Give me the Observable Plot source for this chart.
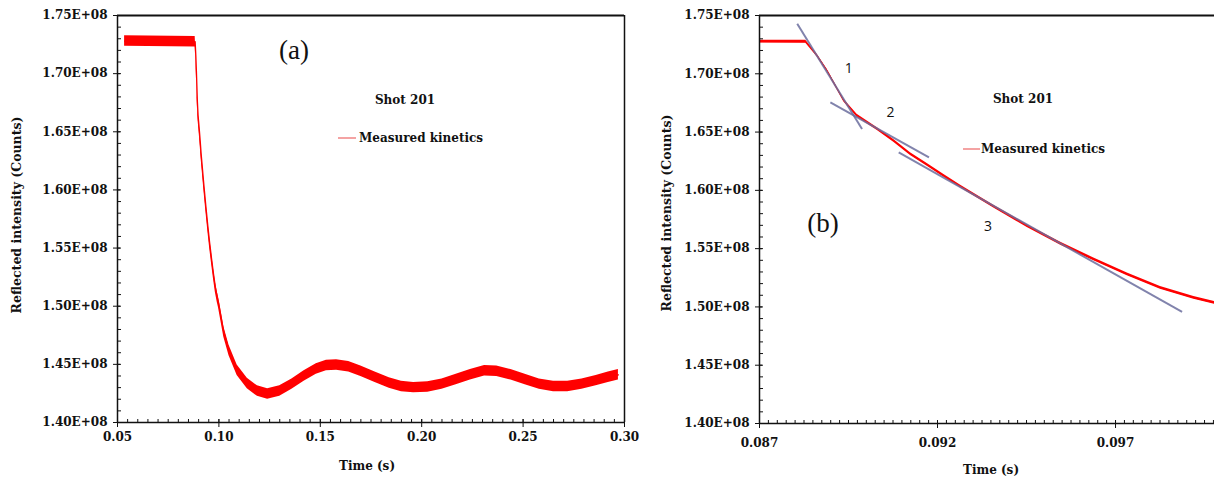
<!DOCTYPE html>
<html><head><meta charset="utf-8">
<script src="https://cdn.jsdelivr.net/npm/d3@7"></script>
<script src="https://cdn.jsdelivr.net/npm/@observablehq/plot@0.6"></script>
<style>
body{margin:0;background:#fff;}
#wrap{position:relative;width:1214px;height:480px;overflow:hidden;font-family:"DejaVu Serif",serif;color:#111;}
.panel{position:absolute;top:0;}
.t{position:absolute;white-space:nowrap;font-weight:bold;font-size:12px;transform:translate(-50%,-50%);line-height:1;}
.ts{position:absolute;white-space:nowrap;font-weight:bold;font-size:12px;transform:translate(0,-50%);line-height:1;}
.yt{position:absolute;white-space:nowrap;font-weight:bold;font-size:12.5px;transform:translate(-50%,-50%) rotate(-90deg);line-height:1;}
.big{position:absolute;white-space:nowrap;font-family:"Liberation Serif",serif;font-size:27px;transform:translate(-50%,-50%);line-height:1;}
.leg{position:absolute;height:1.4px;background:#f4a3a3;}
</style></head><body><div id="wrap"></div>
<script>
// Measured kinetics, Shot 201 (time in s, reflected intensity in units of 1E+08 counts)
const times = [0.0535, 0.0883, 0.08862, 0.0889, 0.08937, 0.08974, 0.09031, 0.09077, 0.09124, 0.09171, 0.09218, 0.09265, 0.09358, 0.09452, 0.09546, 0.09639, 0.09733, 0.09826, 0.0992, 0.09978, 0.1024, 0.105, 0.109, 0.114, 0.119, 0.124, 0.130, 0.136, 0.142, 0.148, 0.153, 0.158, 0.164, 0.170, 0.177, 0.184, 0.190, 0.196, 0.203, 0.210, 0.217, 0.224, 0.231, 0.237, 0.244, 0.251, 0.258, 0.265, 0.272, 0.279, 0.286, 0.292, 0.297];
const valuesE8 = [1.728, 1.7275, 1.7156, 1.7027, 1.6769, 1.6640, 1.6526, 1.6425, 1.6311, 1.6219, 1.6124, 1.6032, 1.5860, 1.5694, 1.5542, 1.5408, 1.5279, 1.5164, 1.5078, 1.5035, 1.478, 1.462, 1.445, 1.4335, 1.427, 1.4245, 1.427, 1.433, 1.440, 1.446, 1.449, 1.4495, 1.448, 1.444, 1.439, 1.434, 1.431, 1.430, 1.4305, 1.433, 1.437, 1.441, 1.4445, 1.444, 1.441, 1.437, 1.433, 1.431, 1.431, 1.433, 1.436, 1.439, 1.441];
// half-width of the measurement noise band (counts)
const noiseA = 4.5e5;
const noiseB = 1.2e5;

// fitted linear segments in panel (b)
const fitNames = ["1", "2", "3"];
const fitT1 = [0.08806, 0.08899, 0.09091];
const fitV1 = [1.7429, 1.6755, 1.6325];
const fitT2 = [0.08988, 0.09176, 0.09887];
const fitV2 = [1.6526, 1.6282, 1.4957];
const fitLabelT = [0.08951, 0.09068, 0.09342];
const fitLabelV = [1.7042, 1.6668, 1.5694];

// axes
const yTicks = [1.40e8, 1.45e8, 1.50e8, 1.55e8, 1.60e8, 1.65e8, 1.70e8, 1.75e8];
const xTicksA = [0.05, 0.10, 0.15, 0.20, 0.25, 0.30];
const xTicksB = [0.087, 0.092, 0.097];
const yMinor = d3.range(0, 36).map(i => 1.40e8 + i * 1e6);
const xMinorA = d3.range(0, 51).map(i => 0.05 + i * 0.005);
const xMinorB = d3.range(0, 52).map(i => 0.087 + i * 0.00025);

const measured = times.map((t, i) => ({t, v: valuesE8[i] * 1e8}));
const fits = fitNames.map((n, i) => ({n, t1: fitT1[i], v1: fitV1[i] * 1e8, t2: fitT2[i], v2: fitV2[i] * 1e8, lt: fitLabelT[i], lv: fitLabelV[i] * 1e8}));

const fmtE = d => (d / 1e8).toFixed(2) + "E+08";
const red = "#ff0000";
const ink = "#111";

function panel({width, marginLeft, marginRight, marginBottom, xDomain, xTicks, xMinor, xFmt, noise, lineW, xPad, extra, rightRule}) {
  return Plot.plot({
    width, height: 480, marginLeft, marginRight, marginTop: 15, marginBottom,
    x: {domain: xDomain}, y: {domain: [1.40e8, 1.75e8]},
    style: {fontFamily: "DejaVu Serif", fontSize: "12px", fontWeight: "bold", color: ink, background: "transparent"},
    marks: [
      Plot.areaY(measured, {x: "t", y1: d => d.v - noise, y2: d => d.v + noise, fill: red, clip: true}),
      Plot.line(measured, {x: "t", y: "v", stroke: red, strokeWidth: lineW, clip: true}),
      ...extra,
      Plot.ruleY([1.75e8], {stroke: ink, strokeWidth: 2}),
      Plot.ruleY([1.40e8], {stroke: ink, strokeWidth: 1.5}),
      Plot.ruleX([xDomain[0]], {stroke: ink, strokeWidth: 1.5}),
      ...(rightRule ? [Plot.ruleX([xDomain[1]], {stroke: ink, strokeWidth: 1.5})] : []),
      Plot.axisY({ticks: yTicks, tickSize: 7, dx: 3, tickPadding: 6, tickFormat: fmtE, label: null, fontWeight: "bold", stroke: ink, fill: ink}),
      Plot.axisY({ticks: yMinor, tickSize: 4, dx: 4, tickFormat: () => "", label: null, stroke: ink}),
      Plot.axisX({ticks: xTicks, tickSize: 8, dy: -3, tickPadding: xPad, tickFormat: xFmt, label: null, fontWeight: "bold", stroke: ink, fill: ink}),
      Plot.axisX({ticks: xMinor, tickSize: 3, dy: -3, tickFormat: () => "", label: null, stroke: ink})
    ]
  });
}

const wrap = document.getElementById("wrap");

const a = panel({width: 640, marginLeft: 117, marginRight: 16, marginBottom: 58, xDomain: [0.05, 0.30], xTicks: xTicksA, xMinor: xMinorA, xFmt: d3.format(".2f"), noise: noiseA, lineW: 1.3, xPad: 5, extra: [], rightRule: true});
a.classList.add("panel"); a.style.left = "0px";
wrap.appendChild(a);

const b = panel({width: 574, marginLeft: 119, marginRight: 0, marginBottom: 57, xDomain: [0.087, 0.09978], xTicks: xTicksB, xMinor: xMinorB, xFmt: d3.format(".3f"), noise: noiseB, lineW: 1, xPad: 10,
  extra: [
    Plot.link(fits, {x1: "t1", y1: "v1", x2: "t2", y2: "v2", stroke: "#6b6d9e", strokeOpacity: 0.85, strokeWidth: 2}),
    Plot.text(fits, {x: "lt", y: "lv", text: "n", fontFamily: "Open Sans", fontWeight: "normal", fontSize: 14, fill: ink})
  ], rightRule: false});
b.classList.add("panel"); b.style.left = "640px";
wrap.appendChild(b);

function add(cls, text, x, y) {
  const d = document.createElement("div");
  d.className = cls; d.textContent = text;
  d.style.left = x + "px"; d.style.top = y + "px";
  wrap.appendChild(d);
  return d;
}
function legLine(x, y, w) {
  const d = document.createElement("div");
  d.className = "leg"; d.style.left = x + "px"; d.style.top = (y - 0.7) + "px"; d.style.width = w + "px";
  wrap.appendChild(d);
}
// panel (a) texts
add("big", "(a)", 294, 50);
add("t", "Shot 201", 405, 100);
legLine(338, 138, 18);
add("ts", "Measured kinetics", 359, 138);
add("yt", "Reflected intensity (Counts)", 17, 215);
add("t", "Time (s)", 367, 466);
// panel (b) texts
add("big", "(b)", 823, 223);
add("t", "Shot 201", 1023, 99);
legLine(963, 149, 17);
add("ts", "Measured kinetics", 981, 149);
add("yt", "Reflected intensity (Counts)", 667, 213);
add("t", "Time (s)", 991, 470);
</script>
</body></html>
